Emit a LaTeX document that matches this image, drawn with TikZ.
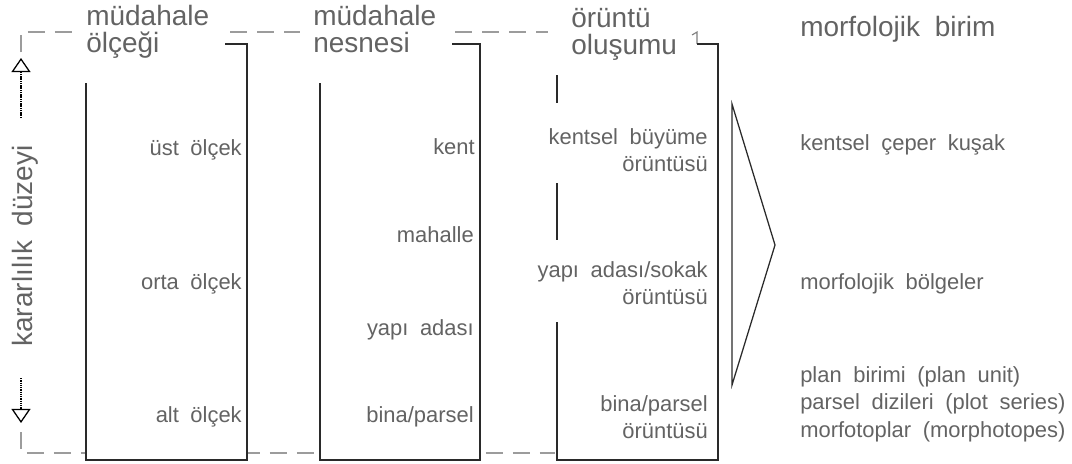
\documentclass[tikz,border=0pt]{standalone}
\usepackage{fontspec}
\setmainfont{Liberation Sans}[WordSpace=1.9]
\usepackage{tikz}
\usetikzlibrary{arrows.meta, positioning}
\definecolor{labelgray}{HTML}{636363}
\definecolor{framegray}{HTML}{9C9C9C}
\definecolor{linegray}{HTML}{2A2A2A}

\begin{document}
\begin{tikzpicture}[
    x=0.025cm, y=-0.025cm,
    every node/.style={inner sep=0pt, text=labelgray},
    title/.style={font=\fontsize{19.9}{18.5}\selectfont, align=left, anchor=base west},
    level/.style={font=\fontsize{15.6}{19}\selectfont, align=right, anchor=base east},
    unit/.style={font=\fontsize{15.6}{19.3}\selectfont, align=left, anchor=base west},
    frame/.style={draw=framegray, line width=1.8pt, dash pattern=on 12.1pt off 7.1pt},
    column/.style={draw=linegray, line width=0.85pt},
    axis/.style={-{Triangle[open, length=10pt, width=13.5pt, line width=0.9pt]}, line width=1.1pt, dash pattern=on 1pt off 0.6pt, black},
    wedge/.style={draw=linegray, line width=0.9pt, line join=miter}
]
\useasboundingbox (0,0) rectangle (1072,463);

% --- dashed frame round the three columns ---
\draw[frame] (21,52) -- (21,32) -- (75,32);
\draw[frame] (230,32) -- (300,32);
\draw[frame] (455,32) -- (548,32);
\draw[frame] (21,432) -- (21,453) -- (555,453);
\draw[linegray!60, line width=0.8pt] (692,35) -- (697,32) -- (697,44);

% --- columns ---
\fill[white] (86,44) rectangle (247,460);
\fill[white] (320,44) rectangle (480,460);
\fill[white] (557,44) rectangle (718,460);
\draw[column] (225,44) -| (247,460) -| (86,83);
\draw[column] (452,44) -| (480,460) -| (320,83);
\draw[column] (697,44) -| (718,460) -| (557,322);
\draw[column] (557,183) -- (557,240);
\draw[column] (557,75) -- (557,103);

% --- titles (base = last line) ---
\node[title] (scaleT)   at (86,52)  {müdahale\\ölçeği};
\node[title] (objectT)  at (313,52) {müdahale\\nesnesi};
\node[title] (patternT) at (571,54) {örüntü\\oluşumu};
\node[title] (unitT)    at (800,36) {morfolojik birim};

% --- decision level axis ---
\coordinate (upTail)   at (21,118);
\coordinate (upTip)    at (21,58);
\coordinate (downTail) at (21,378);
\coordinate (downTip)  at (21,423);
\draw[axis] (upTail) -- (upTip);
\draw[axis] (downTail) -- (downTip);
\node[font=\fontsize{19.9}{18.5}\selectfont, rotate=90, anchor=base] (stability) at (32,246) {kararlılık düzeyi};

% --- scales ---
\node[level] (upper)  at (242,155) {üst ölçek};
\node[level] (middle) at (242,289) {orta ölçek};
\node[level] (lower)  at (242,422) {alt ölçek};

% --- objects ---
\node[level] (city)     at (475,154) {kent};
\node[level] (quarter)  at (474,242) {mahalle};
\node[level] (block)    at (474,335) {yapı adası};
\node[level] (plot)     at (474,422) {bina/parsel};

% --- patterns ---
\node[level] (growthP) at (708,171) {kentsel büyüme\\örüntüsü};
\node[level] (streetP) at (708,304) {yapı adası/sokak\\örüntüsü};
\node[level] (plotP)   at (708,438) {bina/parsel\\örüntüsü};

% --- wedge ---
\coordinate (wedgeTop) at (732,104);
\coordinate (wedgeTip) at (775,245);
\coordinate (wedgeBot) at (732,385);
\draw[wedge] (wedgeTop) -- (wedgeTip) -- (wedgeBot) -- cycle;

% --- morphological units ---
\node[unit] (fringe)  at (800,150) {kentsel çeper kuşak};
\node[unit] (regions) at (800,289) {morfolojik bölgeler};
\node[unit] (units)   at (800,437) {plan birimi (plan unit)\\parsel dizileri (plot series)\\morfotoplar (morphotopes)};
\end{tikzpicture}
\end{document}
